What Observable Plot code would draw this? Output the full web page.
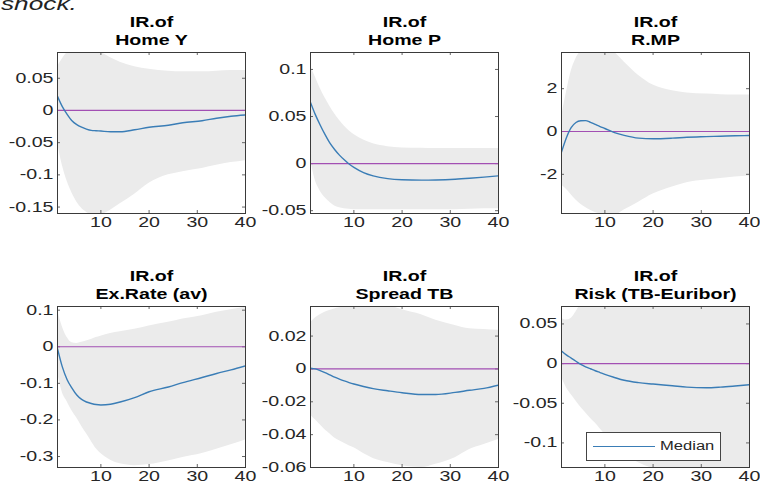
<!DOCTYPE html>
<html><head><meta charset="utf-8">
<script src="https://cdn.jsdelivr.net/npm/d3@7"></script>
<script src="https://cdn.jsdelivr.net/npm/@observablehq/plot@0.6"></script>
<style>
html,body{margin:0;padding:0;background:#fff;overflow:hidden}
#chart{position:relative;width:760px;height:489px;font-family:"Liberation Sans",Arial,sans-serif;overflow:hidden}
.panel{position:absolute}
#caption{position:absolute;left:1px;top:-6px;font-size:19px;font-style:italic;color:#222;line-height:1;white-space:nowrap;transform:scaleX(1.38);transform-origin:0 0}
#legend{position:absolute;left:586px;top:432px;width:133px;height:27px;border:1px solid #444;background:#fff;font-size:12px;color:#262626}
#legend .ln{position:absolute;left:6px;top:13px;width:62px;border-top:1.3px solid #3a7db6}
#legend .tx{position:absolute;left:73px;top:6px;line-height:14px;transform:scaleX(1.38);transform-origin:0 0;white-space:nowrap}
</style></head><body><div id="chart"><div id="caption">shock.</div></div>
<script>
// Horizon (periods) at which values were read
const horizon = [1,2,3,4,5,6,7,8,9,10,12,14,17,20,24,27,31,34,37,40];
const xTicks = [10, 20, 30, 40];
const titles = ["Home Y", "Home P", "R.MP", "Ex.Rate (av)", "Spread TB", "Risk (TB-Euribor)"];

// Home Y
const homeYMedian = [0.022,0.006,-0.006,-0.016,-0.022,-0.026,-0.029,-0.031,-0.0315,-0.032,-0.033,-0.033,-0.030,-0.026,-0.023,-0.019,-0.016,-0.012,-0.009,-0.007];
const homeYUpper  = [0.068,0.080,0.090,0.097,0.100,0.100,0.100,0.098,0.094,0.090,0.082,0.075,0.068,0.064,0.061,0.060,0.060,0.061,0.062,0.062];
const homeYLower  = [-0.050,-0.085,-0.110,-0.128,-0.142,-0.152,-0.158,-0.162,-0.163,-0.162,-0.155,-0.145,-0.130,-0.113,-0.100,-0.095,-0.090,-0.085,-0.081,-0.078];
const homeYDomain = [-0.16, 0.09];
const homeYTicks  = [-0.15, -0.1, -0.05, 0, 0.05];
const homeYLabels = ["-0.15", "-0.1", "-0.05", "0", "0.05"];

// Home P
const homePMedian = [0.065,0.052,0.041,0.031,0.022,0.015,0.009,0.004,-0.0005,-0.004,-0.0095,-0.013,-0.016,-0.0172,-0.0176,-0.0174,-0.0166,-0.0156,-0.0144,-0.013];
const homePUpper  = [0.104,0.092,0.080,0.070,0.061,0.053,0.046,0.040,0.035,0.031,0.025,0.021,0.018,0.0167,0.0162,0.016,0.016,0.016,0.016,0.016];
const homePLower  = [0.005,-0.018,-0.029,-0.036,-0.041,-0.045,-0.047,-0.048,-0.0485,-0.049,-0.049,-0.049,-0.049,-0.049,-0.049,-0.049,-0.049,-0.0485,-0.048,-0.048];
const homePDomain = [-0.053, 0.118];
const homePTicks  = [-0.05, 0, 0.05, 0.1];
const homePLabels = ["-0.05", "0", "0.05", "0.1"];

// R.MP
const rmpMedian = [-0.96,-0.30,0.18,0.42,0.50,0.51,0.43,0.33,0.23,0.14,-0.05,-0.18,-0.31,-0.34,-0.31,-0.27,-0.24,-0.22,-0.20,-0.19];
const rmpUpper  = [0.67,1.8,2.8,3.4,3.75,3.95,4.0,4.0,4.0,4.0,3.7,3.25,2.62,2.17,1.9,1.8,1.75,1.72,1.71,1.7];
const rmpLower  = [-2.5,-2.7,-2.95,-3.2,-3.4,-3.55,-3.68,-3.78,-3.85,-3.9,-3.9,-3.67,-3.3,-2.92,-2.59,-2.39,-2.27,-2.2,-2.13,-2.08];
const rmpDomain = [-3.83, 3.69];
const rmpTicks  = [-2, 0, 2];
const rmpLabels = ["-2", "0", "2"];

// Ex.Rate (av)
const exRateMedian = [-0.005,-0.055,-0.090,-0.113,-0.132,-0.144,-0.151,-0.155,-0.158,-0.159,-0.157,-0.151,-0.139,-0.123,-0.110,-0.098,-0.084,-0.073,-0.063,-0.052];
const exRateUpper  = [0.100,0.055,0.025,0.011,0.009,0.012,0.016,0.020,0.025,0.029,0.036,0.041,0.048,0.057,0.067,0.076,0.085,0.094,0.101,0.108];
const exRateLower  = [-0.070,-0.125,-0.150,-0.175,-0.195,-0.217,-0.237,-0.258,-0.278,-0.292,-0.310,-0.320,-0.325,-0.322,-0.312,-0.303,-0.292,-0.280,-0.268,-0.255];
const exRateDomain = [-0.33, 0.11];
const exRateTicks  = [-0.3, -0.2, -0.1, 0, 0.1];
const exRateLabels = ["-0.3", "-0.2", "-0.1", "0", "0.1"];

// Spread TB
const spreadMedian = [0.0005,0.0,-0.001,-0.0022,-0.0036,-0.005,-0.0062,-0.0073,-0.0083,-0.0092,-0.0107,-0.012,-0.0133,-0.0145,-0.0156,-0.0156,-0.0143,-0.013,-0.0118,-0.0098];
const spreadUpper  = [0.028,0.031,0.033,0.0345,0.0355,0.0365,0.0372,0.038,0.0385,0.039,0.0395,0.040,0.039,0.036,0.033,0.0297,0.0265,0.0245,0.024,0.0235];
const spreadLower  = [-0.028,-0.031,-0.034,-0.037,-0.0395,-0.042,-0.0437,-0.0453,-0.0467,-0.048,-0.0515,-0.0545,-0.057,-0.059,-0.060,-0.058,-0.054,-0.049,-0.046,-0.043];
const spreadDomain = [-0.06, 0.038];
const spreadTicks  = [-0.06, -0.04, -0.02, 0, 0.02];
const spreadLabels = ["-0.06", "-0.04", "-0.02", "0", "0.02"];

// Risk (TB-Euribor)
const riskMedian = [0.016,0.011,0.007,0.003,-0.001,-0.004,-0.0065,-0.009,-0.0113,-0.0136,-0.0175,-0.021,-0.024,-0.0258,-0.028,-0.0297,-0.0305,-0.0297,-0.0283,-0.0267];
const riskUpper  = [0.057,0.055,0.057,0.065,0.075,0.080,0.083,0.085,0.087,0.088,0.089,0.090,0.090,0.090,0.089,0.088,0.087,0.086,0.085,0.085];
const riskLower  = [-0.017,-0.030,-0.039,-0.047,-0.055,-0.062,-0.069,-0.075,-0.082,-0.089,-0.103,-0.114,-0.125,-0.132,-0.135,-0.135,-0.134,-0.133,-0.133,-0.132];
const riskDomain = [-0.131, 0.072];
const riskTicks  = [-0.1, -0.05, 0, 0.05];
const riskLabels = ["-0.1", "-0.05", "0", "0.05"];

const panels = [
  {title: titles[0], median: homeYMedian, upper: homeYUpper, lower: homeYLower, domain: homeYDomain, ticks: homeYTicks, labels: homeYLabels},
  {title: titles[1], median: homePMedian, upper: homePUpper, lower: homePLower, domain: homePDomain, ticks: homePTicks, labels: homePLabels},
  {title: titles[2], median: rmpMedian, upper: rmpUpper, lower: rmpLower, domain: rmpDomain, ticks: rmpTicks, labels: rmpLabels},
  {title: titles[3], median: exRateMedian, upper: exRateUpper, lower: exRateLower, domain: exRateDomain, ticks: exRateTicks, labels: exRateLabels},
  {title: titles[4], median: spreadMedian, upper: spreadUpper, lower: spreadLower, domain: spreadDomain, ticks: spreadTicks, labels: spreadLabels},
  {title: titles[5], median: riskMedian, upper: riskUpper, lower: riskLower, domain: riskDomain, ticks: riskTicks, labels: riskLabels}
];

const FONT = "'Liberation Sans', Arial, sans-serif";
const STRETCH = 1.4; // the source figure's text is horizontally stretched
const W = 188, H = 161, ML = 57, MT = 52, MR = 6, MB = 24;
const colLeft = [0, 253, 504], rowTop = [0, 254];
const chartDiv = document.getElementById("chart");

panels.forEach((p, i) => {
  const data = horizon.map((h, j) => ({h, med: p.median[j], lo: p.lower[j], hi: p.upper[j]}));
  const svg = Plot.plot({
    width: ML + W + MR, height: MT + H + MB,
    marginLeft: ML, marginRight: MR, marginTop: MT, marginBottom: MB,
    x: {domain: [1, 40], label: null},
    y: {domain: p.domain, label: null},
    style: {fontFamily: FONT, fontSize: "14px", color: "#262626", background: "transparent", overflow: "visible"},
    marks: [
      Plot.areaY(data, {x: "h", y1: "lo", y2: "hi", fill: "#ebebeb", curve: "monotone-x", clip: true}),
      Plot.tickY(p.ticks, {y: d => d, insetRight: W - 3, stroke: "#666"}),
      Plot.tickY(p.ticks, {y: d => d, insetLeft: W - 3, stroke: "#666"}),
      Plot.tickX(xTicks, {x: d => d, insetTop: H - 3, stroke: "#666"}),
      Plot.tickX(xTicks, {x: d => d, insetBottom: H - 3, stroke: "#666"}),
      Plot.ruleY([0], {stroke: "#a24fb3", strokeWidth: 1.2}),
      Plot.lineY(data, {x: "h", y: "med", stroke: "#3a7db6", strokeWidth: 1.4, curve: "monotone-x", clip: true}),
      Plot.frame({stroke: "#3a3a3a"}),
      Plot.axisY({ticks: p.ticks, tickFormat: d => p.labels[p.ticks.indexOf(d)], tickSize: 0, tickPadding: 4, label: null, fontSize: 14}),
      Plot.axisX({ticks: xTicks, tickFormat: d => String(d), tickSize: 0, tickPadding: 4, label: null, fontSize: 14}),
      Plot.text([p.title], {text: d => "IR.of\n" + d, frameAnchor: "top", dy: -8, lineAnchor: "bottom", lineHeight: 1.28, fontWeight: "bold", fontSize: 14, fill: "#000"})
    ]
  });
  // widen every text horizontally about its own anchor, like the source image
  svg.querySelectorAll("text").forEach(t => {
    const tr = t.getAttribute("transform") || "";
    t.setAttribute("transform", `${tr} scale(${STRETCH},1)`);
  });
  svg.classList.add("panel");
  svg.style.left = colLeft[i % 3] + "px";
  svg.style.top = rowTop[Math.floor(i / 3)] + "px";
  chartDiv.appendChild(svg);
});

const legend = document.createElement("div");
legend.id = "legend";
legend.innerHTML = '<div class="ln"></div><div class="tx">Median</div>';
chartDiv.appendChild(legend);
</script></body></html>
